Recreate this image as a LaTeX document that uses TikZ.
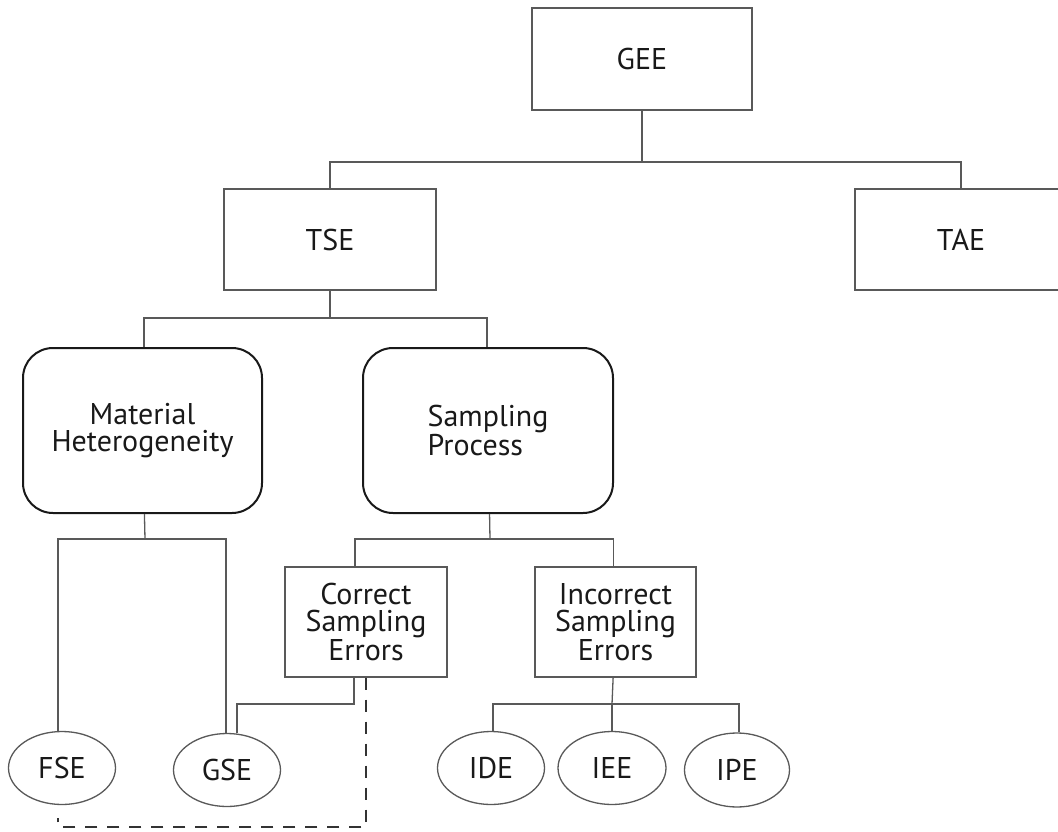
\documentclass[tikz,border=0pt]{standalone}
\usepackage{fontspec}
\setmainfont{PT Sans}
\usetikzlibrary{shapes.geometric}
\begin{document}
\begin{tikzpicture}[x=1pt,y=-1pt,
  lbl/.style={font=\fontsize{30}{27}\selectfont, text=black!90, inner sep=0pt},
  sqbox/.style={lbl, rectangle, draw=black!65, line width=1.3pt, align=center},
  rbox/.style={lbl, rectangle, draw=black!90, line width=2pt, rounded corners=30pt,
               minimum width=#1, minimum height=165pt},
  oval/.style={lbl, ellipse, draw=black!65, line width=1.3pt, minimum width=107pt, minimum height=73pt},
  link/.style={draw=black!65, line width=1.3pt},
  dashlink/.style={draw=black!80, line width=1.4pt, dash pattern=on 12pt off 10pt}]
\useasboundingbox (0,0) rectangle (1058,832);
\clip (0,0) rectangle (1058,832);

% top level
\node[sqbox, minimum width=220pt, minimum height=102pt] (gee) at (642,59) {GEE};
\node[sqbox, minimum width=212pt, minimum height=101pt] (tse) at (330,239.5) {TSE};
\node[sqbox, minimum width=212pt, minimum height=101pt] (tae) at (961,239.5) {TAE};

% sources of sampling error
\node[rbox=239pt, align=center] (mh) at (142.5,430.5) {Material\\Heterogeneity};
\node[rbox=250pt, align=left] (sp) at (488,430.5) {Sampling\\Process};

% process errors
\node[sqbox, minimum width=162pt, minimum height=110pt] (cse) at (366,622) {Correct\\Sampling\\Errors};
\node[sqbox, minimum width=161pt, minimum height=110pt] (ise) at (615.5,622) {Incorrect\\Sampling\\Errors};

% individual errors
\node[oval] (fse) at (62,768) {FSE};
\node[oval] (gse) at (227,770) {GSE};
\node[oval] (ide) at (491,768) {IDE};
\node[oval, minimum width=108pt] (iee) at (612,768) {IEE};
\node[oval, minimum width=105pt, minimum height=74pt] (ipe) at (737,770) {IPE};

% branch points
\coordinate (b1) at (642,162);
\coordinate (b2) at (330,318);
\coordinate (b3) at (145,539);
\coordinate (b4) at (490,539);
\coordinate (b5) at (612,704);
\coordinate (c1) at (354,704);
\coordinate (d1) at (58,827);
\coordinate (d2) at (58,818);

% tree connectors
\draw[link] (gee) -- (b1);
\draw[link] (tse.north) |- (b1) -| (tae.north);
\draw[link] (tse) -- (b2);
\draw[link] ([xshift=1.5pt]mh.north) |- (b2) -| ([xshift=-1pt]sp.north);
\draw[link] (mh) -- (b3);
\draw[link] ([xshift=-4pt]fse.north) |- (b3) -| ([xshift=-1pt]gse.north);
\draw[link] (sp) -- (b4);
\draw[link] ([xshift=-11pt]cse.north) |- (b4) -| ([xshift=-2pt]ise.north);
\draw[link] ([xshift=-12pt]cse.south) -- (c1) -| ([xshift=10pt]gse.north);
\draw[link] (ise) -- (b5);
\draw[link] ([xshift=2pt]ide.north) |- (b5) -| ([xshift=2pt]ipe.north);
\draw[link] (b5) -- (iee.north);

% dashed return path
\draw[dashlink] (cse.south) |- (d1) -- (d2);
\end{tikzpicture}
\end{document}
